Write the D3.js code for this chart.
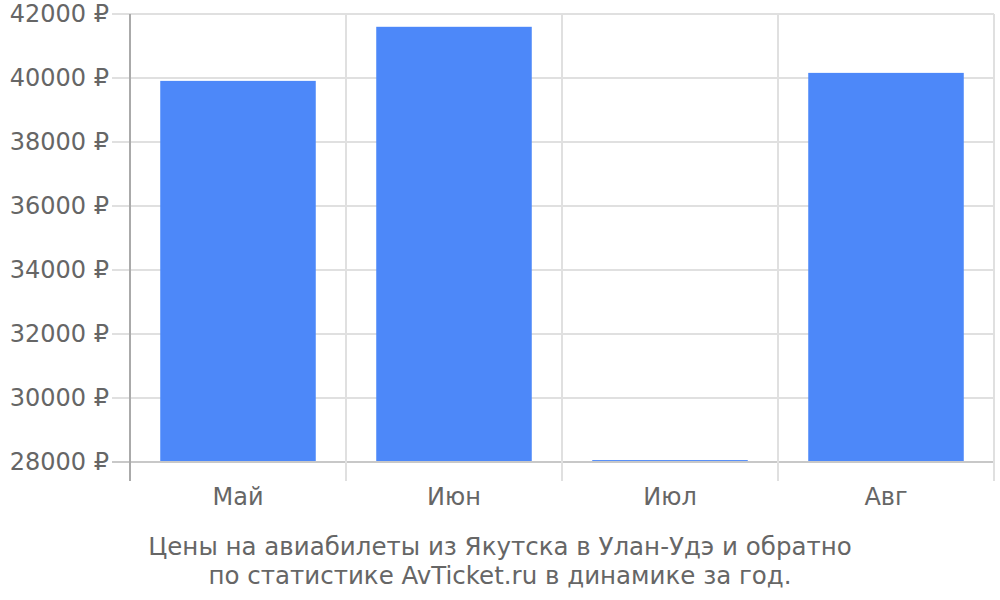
<!DOCTYPE html>
<html><head><meta charset="utf-8">
<script src="https://cdn.jsdelivr.net/npm/d3@7"></script>
<style>body{margin:0;background:#fff}svg{display:block}</style>
</head><body>
<svg id="c" width="1000" height="600"></svg>
<script>
const categories = ["Май", "Июн", "Июл", "Авг"];
const values = [39910, 41600, 28060, 40160];
const yTicks = [28000, 30000, 32000, 34000, 36000, 38000, 40000, 42000];
const titleLines = ["Цены на авиабилеты из Якутска в Улан-Удэ и обратно", "по статистике AvTicket.ru в динамике за год."];

const svg = d3.select("#c");
const L = 130, R = 994, T = 14, B = 462;
const font = "DejaVu Sans, sans-serif";
const x = d3.scaleBand().domain(categories).range([L, R]).paddingInner(0.28).paddingOuter(0.14);
const xb = d3.scaleBand().domain(categories).range([L, R]);
const y = d3.scaleLinear().domain([28000, 42000]).range([B, T]);

svg.append("g").selectAll("line").data(yTicks).join("line")
  .attr("x1", 112).attr("x2", R).attr("y1", d => y(d)).attr("y2", d => y(d))
  .attr("stroke", d => d === 28000 ? "#c8c8c8" : "#e0e0e0").attr("stroke-width", 2);
const vx = categories.map(c => xb(c)).concat([R]);
svg.append("g").selectAll("line").data(vx.slice(1)).join("line")
  .attr("x1", d => d).attr("x2", d => d).attr("y1", T).attr("y2", 481)
  .attr("stroke", "#e0e0e0").attr("stroke-width", 2);
svg.append("line").attr("x1", L).attr("x2", L).attr("y1", T).attr("y2", 481)
  .attr("stroke", "#aaaaaa").attr("stroke-width", 2);

svg.append("g").selectAll("rect").data(values).join("rect")
  .attr("x", (d, i) => x(categories[i])).attr("width", x.bandwidth())
  .attr("y", d => y(d)).attr("height", d => y(28000) - y(d) - 1)
  .attr("fill", "#4d88f9");

svg.append("g").selectAll("text").data(yTicks).join("text")
  .attr("x", 109).attr("y", d => y(d)).attr("dy", "0.35em")
  .attr("text-anchor", "end").attr("font-family", font).attr("font-size", 24)
  .attr("fill", "#666").text(d => d + " ₽");

svg.append("g").selectAll("text").data(categories).join("text")
  .attr("x", d => xb(d) + xb.bandwidth() / 2).attr("y", 505)
  .attr("text-anchor", "middle").attr("font-family", font).attr("font-size", 24)
  .attr("fill", "#666").text(d => d);

svg.append("g").selectAll("text").data(titleLines).join("text")
  .attr("x", 500).attr("y", (d, i) => 555 + i * 29)
  .attr("text-anchor", "middle").attr("font-family", font).attr("font-size", 24.5)
  .attr("fill", "#666").text(d => d);
</script>
</body></html>
